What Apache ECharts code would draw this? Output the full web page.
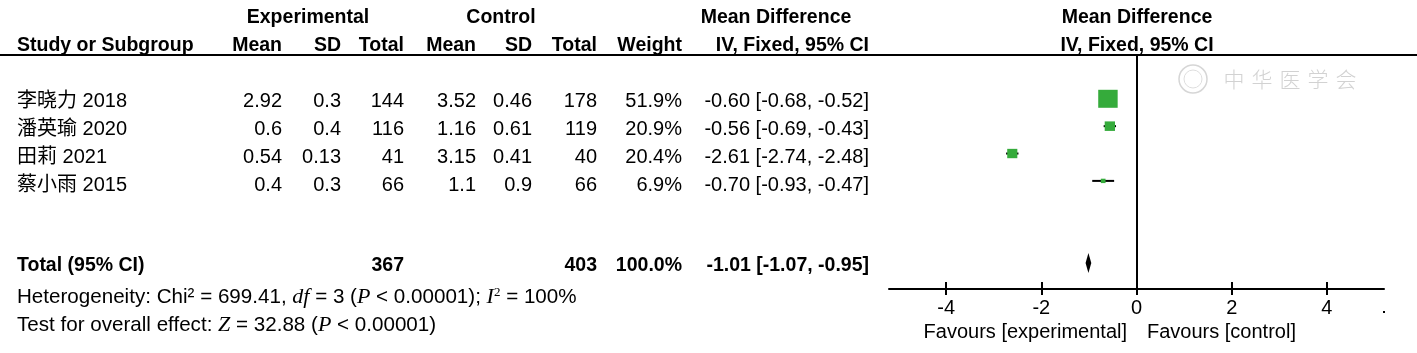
<!DOCTYPE html>
<html>
<head>
<meta charset="utf-8">
<script src="https://cdn.jsdelivr.net/npm/echarts@6/dist/echarts.min.js"></script>
<style>
  html, body { margin: 0; padding: 0; background: #fff; }
  #chart { width: 1417px; height: 353px; }
</style>
</head>
<body>
<div id="chart"></div>
<script>
// study data
const studies = ["李晓力 2018", "潘英瑜 2020", "田莉 2021", "蔡小雨 2015"];
const expMean = [2.92, 0.6, 0.54, 0.4];
const expSD = [0.3, 0.4, 0.13, 0.3];
const expTotal = [144, 116, 41, 66];
const ctrlMean = [3.52, 1.16, 3.15, 1.1];
const ctrlSD = [0.46, 0.61, 0.41, 0.9];
const ctrlTotal = [178, 119, 40, 66];
const weights = [51.9, 20.9, 20.4, 6.9];
const md = [-0.60, -0.56, -2.61, -0.70];
const ciLow = [-0.68, -0.69, -2.74, -0.93];
const ciHigh = [-0.52, -0.43, -2.48, -0.47];

// pooled
const totalExp = 367;
const totalCtrl = 403;
const totalWeight = 100.0;
const totalMd = -1.01;
const totalLow = -1.07;
const totalHigh = -0.95;

const xTicks = [-4, -2, 0, 2, 4];

const FONT = '"Liberation Sans", Arial, "Noto Sans CJK SC", sans-serif';
const GREEN = "#35ab3b";

const chart = echarts.init(document.getElementById("chart"));

function txt(x, y, text, align, bold) {
  return {
    type: "text",
    x: x,
    y: y,
    style: {
      text: text,
      fill: "#000",
      font: (bold ? "bold 19.5px " : "20px ") + FONT,
      textAlign: align || "left",
      textVerticalAlign: "middle"
    }
  };
}

/** 表格列（右对齐位置） */
const cols = {
  expMean: 282, expSD: 341, expTotal: 404,
  ctrlMean: 476, ctrlSD: 532, ctrlTotal: 597,
  weight: 682, ci: 869
};

const graphics = [];
// headers
graphics.push(txt(308, 18, "Experimental", "center", true));
graphics.push(txt(501, 18, "Control", "center", true));
graphics.push(txt(776, 18, "Mean Difference", "center", true));
graphics.push(txt(1137, 18, "Mean Difference", "center", true));
graphics.push(txt(17, 46, "Study or Subgroup", "left", true));
graphics.push(txt(cols.expMean, 46, "Mean", "right", true));
graphics.push(txt(cols.expSD, 46, "SD", "right", true));
graphics.push(txt(cols.expTotal, 46, "Total", "right", true));
graphics.push(txt(cols.ctrlMean, 46, "Mean", "right", true));
graphics.push(txt(cols.ctrlSD, 46, "SD", "right", true));
graphics.push(txt(cols.ctrlTotal, 46, "Total", "right", true));
graphics.push(txt(cols.weight, 46, "Weight", "right", true));
graphics.push(txt(cols.ci, 46, "IV, Fixed, 95% CI", "right", true));
graphics.push(txt(1137, 46, "IV, Fixed, 95% CI", "center", true));
graphics.push({
  type: "line",
  shape: { x1: 0, y1: 55, x2: 1417, y2: 55 },
  style: { stroke: "#000", lineWidth: 2 }
});

// study rows
studies.forEach((name, i) => {
  const y = 101 + i * 28.2;
  graphics.push(txt(17, y, name, "left"));
  graphics.push(txt(cols.expMean, y, String(expMean[i]), "right"));
  graphics.push(txt(cols.expSD, y, String(expSD[i]), "right"));
  graphics.push(txt(cols.expTotal, y, String(expTotal[i]), "right"));
  graphics.push(txt(cols.ctrlMean, y, String(ctrlMean[i]), "right"));
  graphics.push(txt(cols.ctrlSD, y, String(ctrlSD[i]), "right"));
  graphics.push(txt(cols.ctrlTotal, y, String(ctrlTotal[i]), "right"));
  graphics.push(txt(cols.weight, y, weights[i].toFixed(1) + "%", "right"));
  graphics.push(txt(cols.ci, y,
    md[i].toFixed(2) + " [" + ciLow[i].toFixed(2) + ", " + ciHigh[i].toFixed(2) + "]", "right"));
});

// total row
graphics.push(txt(17, 266, "Total (95% CI)", "left", true));
graphics.push(txt(cols.expTotal, 266, String(totalExp), "right", true));
graphics.push(txt(cols.ctrlTotal, 266, String(totalCtrl), "right", true));
graphics.push(txt(cols.weight, 266, totalWeight.toFixed(1) + "%", "right", true));
graphics.push(txt(cols.ci, 266,
  totalMd.toFixed(2) + " [" + totalLow.toFixed(2) + ", " + totalHigh.toFixed(2) + "]", "right", true));

const richStyle = {
  i: { fontFamily: '"Liberation Serif", serif', fontStyle: "italic", fontSize: 22 },
  s: { fontFamily: '"Liberation Serif", serif', fontSize: 13, verticalAlign: "top" }
};
graphics.push({
  type: "text", x: 17, y: 297,
  style: {
    text: "Heterogeneity: Chi\u00b2 = 699.41, {i|df} = 3 ({i|P} < 0.00001); {i|I}{s|2} = 100%",
    rich: richStyle, font: "20.6px " + FONT, fill: "#000", textVerticalAlign: "middle"
  }
});
graphics.push({
  type: "text", x: 17, y: 325,
  style: {
    text: "Test for overall effect: {i|Z} = 32.88 ({i|P} < 0.00001)",
    rich: richStyle, font: "20.6px " + FONT, fill: "#000", textVerticalAlign: "middle"
  }
});

// favours
graphics.push(txt(1127, 332, "Favours [experimental]", "right"));
graphics.push(txt(1147, 332, "Favours [control]", "left"));
graphics.push({ type: "rect", shape: { x: 1383, y: 311, width: 2, height: 2 }, style: { fill: "#000" } });

// watermark
graphics.push({ type: "circle", shape: { cx: 1193, cy: 79, r: 14 }, style: { fill: "none", stroke: "#d6d6d6", lineWidth: 1.5 } });
graphics.push({ type: "circle", shape: { cx: 1193, cy: 79, r: 9 }, style: { fill: "none", stroke: "#dedede", lineWidth: 1 } });
"中华医学会".split("").forEach((ch, k) => {
  graphics.push({
    type: "text", x: 1234 + k * 28, y: 79,
    style: { text: ch, fill: "#d2d2d2", font: "300 21px 'Noto Sans CJK SC'", textAlign: "center", textVerticalAlign: "middle" }
  });
});

chart.setOption({
  animation: false,
  grid: { left: 889, width: 495, top: 55, height: 234 },
  xAxis: [
    {
      type: "value", min: -5.2, max: 5.2, position: "bottom",
      axisLine: { show: true, onZero: false, lineStyle: { color: "#000", width: 2 } },
      axisTick: { show: true, customValues: xTicks, length: 6, lineStyle: { color: "#000", width: 2 } },
      axisLabel: { customValues: xTicks, color: "#000", fontSize: 20, fontFamily: FONT, margin: 9 },
      splitLine: { show: false }
    },
    {
      type: "value", min: -5.2, max: 5.2, position: "bottom",
      axisLine: { show: false, onZero: false },
      axisTick: { show: true, inside: true, customValues: xTicks, length: 7, lineStyle: { color: "#000", width: 2 } },
      axisLabel: { show: false },
      splitLine: { show: false }
    }
  ],
  yAxis: { type: "value", inverse: true, min: -0.6, max: 7.95, show: false },
  graphic: graphics,
  series: [
    {
      type: "custom",
      name: "ci",
      data: studies.map((s, i) => [ciLow[i], ciHigh[i], i + 1]),
      renderItem: (params, api) => {
        const p1 = api.coord([api.value(0), api.value(2)]);
        const p2 = api.coord([api.value(1), api.value(2)]);
        return {
          type: "line",
          shape: { x1: p1[0], y1: p1[1], x2: p2[0], y2: p2[1] },
          style: { stroke: "#000", lineWidth: 2 }
        };
      },
      markLine: {
        silent: true,
        symbol: "none",
        label: { show: false },
        lineStyle: { color: "#000", width: 2, type: "solid" },
        data: [{ xAxis: 0 }]
      },
      z: 2
    },
    {
      type: "scatter",
      symbol: "rect",
      data: studies.map((s, i) => [md[i], i + 1, weights[i]]),
      symbolSize: val => {
        const s = 18 * Math.pow(val[2] / 51.9, 0.7);
        return [s * 1.08, s];
      },
      itemStyle: { color: GREEN, opacity: 1 },
      z: 3
    },
    {
      type: "custom",
      name: "total",
      data: [[totalMd, totalLow, totalHigh, 7]],
      renderItem: (params, api) => {
        const c = api.coord([api.value(0), api.value(3)]);
        const lo = api.coord([api.value(1), api.value(3)]);
        const hi = api.coord([api.value(2), api.value(3)]);
        return {
          type: "polygon",
          shape: { points: [[lo[0], c[1]], [c[0], c[1] - 10], [hi[0], c[1]], [c[0], c[1] + 10]] },
          style: { fill: "#000" }
        };
      },
      z: 3
    }
  ]
});
</script>
</body>
</html>
